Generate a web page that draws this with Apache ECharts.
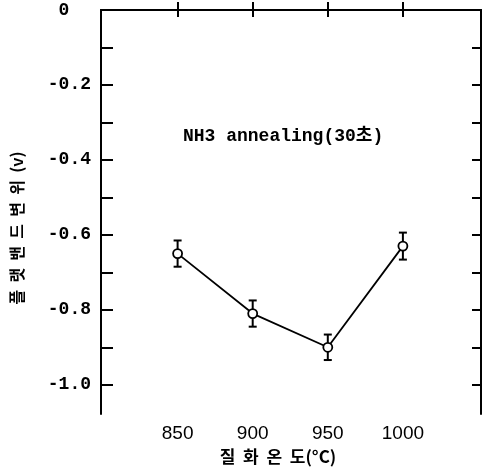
<!DOCTYPE html>
<html>
<head>
<meta charset="utf-8">
<script src="https://cdn.jsdelivr.net/npm/echarts@6/dist/echarts.min.js"></script>
<style>
html,body{margin:0;padding:0;background:#fff;}
#chart{width:483px;height:468px;}
</style>
</head>
<body>
<div id="chart"></div>
<script>
// Data
var temperatures = [850, 900, 950, 1000];
var flatbandShift = [-0.65, -0.81, -0.90, -0.63];
var errors = [0.035, 0.035, 0.034, 0.036];
var xTickValues = [850, 900, 950, 1000];
var yTickValues = [0, -0.1, -0.2, -0.3, -0.4, -0.5, -0.6, -0.7, -0.8, -0.9, -1.0];
var yLabelValues = [0, -0.2, -0.4, -0.6, -0.8, -1.0];
var xTitle = '질  화  온  도(°C)';
var yTitle = '플  랫  밴  드  변  위  (v)';
var annotation = 'NH3 annealing(30초)';

var chart = echarts.init(document.getElementById('chart'));
var lineData = temperatures.map(function (t, i) { return [t, flatbandShift[i]]; });
var errData = temperatures.map(function (t, i) { return [t, flatbandShift[i], errors[i]]; });

var xMin = 799, xMax = 1052, yMin = -1.078, yMax = 0;
var axisLine = {show: true, lineStyle: {color: '#000', width: 2}};

function xAxisCfg(pos, showLabel, tickLen) {
  return {
    type: 'value', position: pos, min: xMin, max: xMax,
    axisLine: axisLine, splitLine: {show: false},
    axisTick: {show: true, inside: true, length: tickLen, customValues: xTickValues, lineStyle: {color: '#000', width: 2}},
    axisLabel: {show: showLabel, customValues: xTickValues, margin: 10, color: '#000',
      fontFamily: 'Liberation Sans', fontSize: 19,
      formatter: function (v) { return String(Math.round(v)); }}
  };
}
function yAxisCfg(pos, showLabel, tickLen) {
  return {
    type: 'value', position: pos, min: yMin, max: yMax,
    axisLine: axisLine, splitLine: {show: false},
    axisTick: {show: true, inside: true, length: tickLen, customValues: yTickValues, lineStyle: {color: '#000', width: 2}},
    axisLabel: {show: showLabel, customValues: yLabelValues, margin: 10, color: '#000',
      fontFamily: 'Liberation Mono', fontWeight: 'bold', fontSize: 18,
      formatter: function (v) { return Math.abs(v) < 1e-9 ? '0  ' : v.toFixed(1); }}
  };
}

chart.setOption({
  animation: false,
  backgroundColor: '#fff',
  grid: {left: 101, right: 2, top: 10, bottom: 54, containLabel: false},
  xAxis: [xAxisCfg('bottom', true, 8), xAxisCfg('top', false, 7)],
  yAxis: [yAxisCfg('left', true, 12), yAxisCfg('right', false, 9)],
  graphic: [
    {type: 'text', left: 183, top: 127, style: {text: annotation, fill: '#000',
      font: 'bold 18px "Liberation Mono", "Noto Sans CJK KR"'}},
    {type: 'text', x: 278, y: 457, style: {text: xTitle, fill: '#000', align: 'center', verticalAlign: 'middle',
      font: 'bold 17px "Noto Sans CJK KR"'}},
    {type: 'text', x: 17, y: 228, rotation: Math.PI / 2, style: {text: yTitle, fill: '#000', align: 'center', verticalAlign: 'middle',
      font: 'bold 16px "Noto Sans CJK KR"'}}
  ],
  series: [
    {
      type: 'custom', xAxisIndex: 0, yAxisIndex: 0, z: 1, data: errData,
      renderItem: function (params, api) {
        var x = api.value(0), y = api.value(1), e = api.value(2);
        var top = api.coord([x, y + e]);
        var bot = api.coord([x, y - e]);
        var hw = 4;
        var st = {stroke: '#000', lineWidth: 2};
        return {type: 'group', children: [
          {type: 'line', shape: {x1: top[0], y1: top[1], x2: bot[0], y2: bot[1]}, style: st},
          {type: 'line', shape: {x1: top[0] - hw, y1: top[1], x2: top[0] + hw, y2: top[1]}, style: st},
          {type: 'line', shape: {x1: bot[0] - hw, y1: bot[1], x2: bot[0] + hw, y2: bot[1]}, style: st}
        ]};
      }
    },
    {
      type: 'line', xAxisIndex: 0, yAxisIndex: 0, z: 2, data: lineData,
      symbol: 'circle', symbolSize: 9,
      lineStyle: {color: '#000', width: 1.8},
      itemStyle: {color: '#fff', borderColor: '#000', borderWidth: 1.8}
    }
  ]
});
</script>
</body>
</html>
